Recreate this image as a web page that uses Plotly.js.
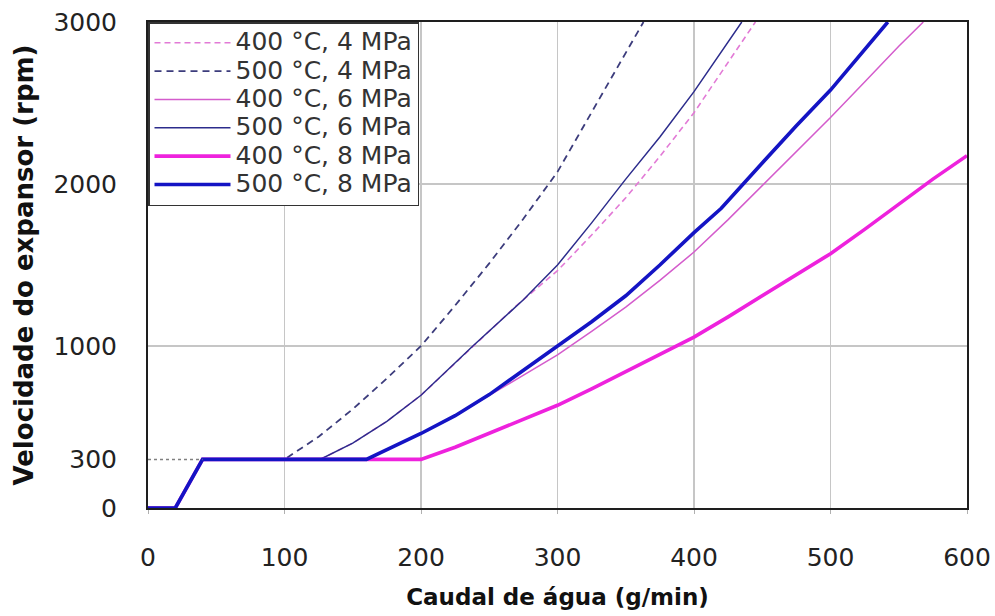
<!DOCTYPE html>
<html>
<head>
<meta charset="utf-8">
<script src="https://cdn.plot.ly/plotly-3.0.1.min.js"></script>
<style>html,body{margin:0;padding:0;background:#fff;}</style>
</head>
<body>
<div id="chart" style="width:995px;height:616px;"></div>
<script>
// ---- data ----
const seriesNames = ["400 °C, 4 MPa", "500 °C, 4 MPa", "400 °C, 6 MPa", "500 °C, 6 MPa", "400 °C, 8 MPa", "500 °C, 8 MPa"];

const x400_4 = [0, 20, 40, 126, 150, 175, 200, 238, 270, 300, 325, 350, 375, 400, 445];
const y400_4 = [0, 0, 300, 300, 400, 535, 696, 1000, 1250, 1465, 1685, 1915, 2170, 2440, 3000];

const x500_4 = [0, 20, 40, 100, 125, 150, 175, 200, 225, 250, 275, 300, 334, 363];
const y500_4 = [0, 0, 300, 300, 440, 610, 800, 1000, 1250, 1510, 1785, 2075, 2575, 3000];

const x400_6 = [0, 20, 40, 160, 200, 225, 250, 275, 300, 325, 350, 375, 400, 425, 450, 475, 500, 525, 550, 568];
const y400_6 = [0, 0, 300, 300, 460, 570, 695, 820, 945, 1090, 1240, 1405, 1580, 1780, 1990, 2200, 2410, 2630, 2850, 3000];

const x500_6 = [0, 20, 40, 126, 150, 175, 200, 238, 275, 300, 325, 350, 375, 400, 435];
const y500_6 = [0, 0, 300, 300, 400, 535, 696, 1000, 1285, 1500, 1760, 2030, 2290, 2570, 3000];

const x400_8 = [0, 20, 40, 200, 225, 250, 275, 300, 325, 350, 375, 400, 425, 450, 475, 500, 525, 550, 575, 600];
const y400_8 = [0, 0, 300, 300, 375, 460, 545, 634, 735, 840, 950, 1055, 1180, 1310, 1440, 1570, 1720, 1875, 2030, 2175];

const x500_8 = [0, 20, 40, 160, 200, 225, 250, 275, 300, 325, 350, 375, 400, 420, 450, 475, 500, 525, 542];
const y500_8 = [0, 0, 300, 300, 460, 570, 700, 850, 1000, 1150, 1310, 1500, 1700, 1850, 2130, 2360, 2580, 2830, 3000];

// minimum-speed reference (dotted, 0–40 g/min at 300 rpm)
const refX = [0, 40];
const refY = [300, 300];

const xTicks = [0, 100, 200, 300, 400, 500, 600];
const yTicks = [0, 300, 1000, 2000, 3000];
const yGrid = [1000, 2000];

// ---- styles ----
const styles = [
  {color: "#e27ad6", width: 1.6, dash: "6px,4px"},
  {color: "#3c3c7c", width: 1.8, dash: "7px,5px"},
  {color: "#d45ccc", width: 1.5, dash: "solid"},
  {color: "#2c2c8c", width: 1.5, dash: "solid"},
  {color: "#ee22dd", width: 3.6, dash: "solid"},
  {color: "#1414c4", width: 3.6, dash: "solid"}
];
const xs = [x400_4, x500_4, x400_6, x500_6, x400_8, x500_8];
const ys = [y400_4, y500_4, y400_6, y500_6, y400_8, y500_8];

const traces = [{
  x: refX, y: refY, yaxis: "y2", mode: "lines", showlegend: false, hoverinfo: "skip",
  line: {color: "#808080", width: 1.5, dash: "dot"}
}];
seriesNames.forEach((n, i) => {
  traces.push({
    x: xs[i], y: ys[i], mode: "lines", name: '<span style="font-size:25px">' + n + '</span>',
    line: {color: styles[i].color, width: styles[i].width, dash: styles[i].dash}
  });
});

const tickFont = {family: "DejaVu Sans, Arial, sans-serif", size: 25, color: "#222"};

const layout = {
  width: 995, height: 616,
  margin: {l: 148, r: 28, t: 22, b: 108},
  paper_bgcolor: "#fff", plot_bgcolor: "#fff",
  showlegend: true,
  xaxis: {
    range: [0, 600], tickvals: xTicks, ticktext: xTicks.map(String),
    showgrid: true, gridcolor: "#c6c6c6", gridwidth: 1.5, zeroline: false,
    showline: true, linecolor: "#1e1e1e", linewidth: 2, mirror: true,
    ticks: "outside", ticklen: 4, tickcolor: "#b0b0b0",
    tickfont: tickFont, ticklabelstandoff: 22,
    title: {text: "Caudal de água (g/min)", font: {family: "DejaVu Sans, Arial, sans-serif", size: 23, weight: "bold", color: "#111"}, standoff: 18}
  },
  yaxis: {
    range: [0, 3000], tickvals: yTicks, ticktext: yTicks.map(String),
    showgrid: false, zeroline: false,
    showline: true, linecolor: "#1e1e1e", linewidth: 2, mirror: true,
    ticks: "", tickfont: tickFont, ticklabelstandoff: 24,
    title: {text: "Velocidade do expansor (rpm)", font: {family: "DejaVu Sans, Arial, sans-serif", size: 26, weight: "bold", color: "#111"}, standoff: 12}
  },
  yaxis2: {
    range: [0, 3000], overlaying: "y", side: "left", tickvals: yGrid,
    showgrid: true, gridcolor: "#c6c6c6", gridwidth: 1.5, zeroline: false,
    showticklabels: false, showline: false, ticks: ""
  },
  legend: {
    x: 0, y: 1, xanchor: "left", yanchor: "top",
    bgcolor: "#fff", bordercolor: "#333", borderwidth: 1.5,
    font: {family: "DejaVu Sans, Arial, sans-serif", size: 19.5, color: "#333"},
    itemwidth: 76, tracegroupgap: 0
  }
};

Plotly.newPlot("chart", traces, layout, {displayModeBar: false, staticPlot: true});
</script>
</body>
</html>
